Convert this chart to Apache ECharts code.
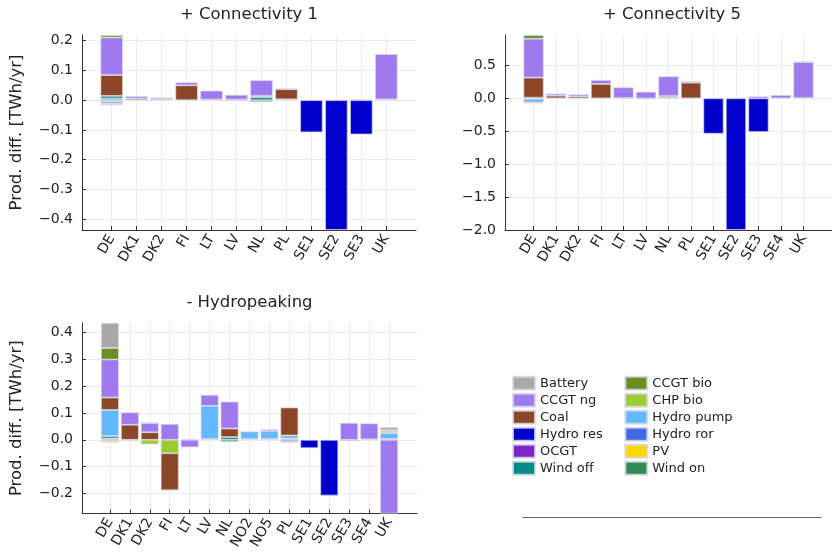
<!DOCTYPE html>
<html>
<head>
<meta charset="utf-8">
<script src="https://cdn.jsdelivr.net/npm/echarts@6/dist/echarts.min.js"></script>
<style>
  html, body { margin: 0; padding: 0; background: #ffffff; }
  #chart { width: 832px; height: 552px; }
</style>
</head>
<body>
<div id="chart"></div>
<script>
// Technologies (alphabetical) and their colours
const techs = ['Battery', 'CCGT bio', 'CCGT ng', 'CHP bio', 'Coal', 'Hydro pump',
               'Hydro res', 'Hydro ror', 'OCGT', 'PV', 'Wind off', 'Wind on'];
const techColors = ['#a9a9a9', '#6b8e23', '#9f79ee', '#9acd32', '#8b4726', '#63b8ff',
                    '#0000cd', '#4169e1', '#7d26cd', '#ffd700', '#008b8b', '#2e8b57'];

// ---- + Connectivity 1 : production difference [TWh/yr] ----
const conn1Regions   = ['DE', 'DK1', 'DK2', 'FI', 'LT', 'LV', 'NL', 'PL', 'SE1', 'SE2', 'SE3', 'UK'];
const conn1Battery   = [-0.003, 0, 0, 0, 0, 0, 0, 0, 0, 0, 0, 0];
const conn1CcgtBio   = [0.008, 0, 0, 0, 0, 0, 0, 0, 0, 0, 0, 0];
const conn1CcgtNg    = [0.126, 0.008, 0.005, 0.010, 0.030, 0.016, 0.053, 0.002, 0, 0, 0.003, 0.152];
const conn1ChpBio    = [0, 0, 0, 0, 0, 0, 0, 0, 0, 0, 0, 0];
const conn1Coal      = [0.070, 0.005, 0.004, 0.050, 0.002, 0.002, 0.004, 0.034, 0, 0, 0, 0];
const conn1HydroPump = [-0.008, 0, 0, 0, 0, -0.003, 0, 0, 0, 0, 0, 0];
const conn1HydroRes  = [0, 0, 0, 0, 0, 0, 0, 0, -0.108, -0.436, -0.115, 0];
const conn1HydroRor  = [-0.002, 0, 0, 0, 0, 0, 0, 0, 0, 0, 0, 0];
const conn1Ocgt      = [0, 0, 0, 0, 0, 0, 0, 0, 0, 0, 0, 0.003];
const conn1Pv        = [-0.004, 0, 0, 0, 0, 0, 0, 0, 0, 0, 0, 0];
const conn1WindOff   = [0.009, 0, 0, 0, 0, 0, 0.010, 0, 0, 0, 0, 0];
const conn1WindOn    = [0.0055, 0, 0, 0, 0, 0, -0.006, 0.003, 0, 0, 0, 0];
const conn1YTicks    = [-0.4, -0.3, -0.2, -0.1, 0.0, 0.1, 0.2];

// ---- + Connectivity 5 ----
const conn5Regions   = ['DE', 'DK1', 'DK2', 'FI', 'LT', 'LV', 'NL', 'PL', 'SE1', 'SE2', 'SE3', 'SE4', 'UK'];
const conn5Battery   = [-0.008, 0, 0, 0, 0, 0, 0, 0, 0, 0, 0, 0, 0];
const conn5CcgtBio   = [0.055, 0, 0, 0, 0, 0, 0, 0, 0, 0, 0, 0, 0.010];
const conn5CcgtNg    = [0.590, 0.030, 0.030, 0.060, 0.162, 0.100, 0.300, 0.020, 0, 0, 0.030, 0.050, 0.545];
const conn5ChpBio    = [0, 0, 0, 0, 0, 0, 0, 0, 0, 0, 0, 0, 0];
const conn5Coal      = [0.305, 0.040, 0.030, 0.218, 0.005, 0, 0.022, 0.238, 0, 0, 0, 0, 0];
const conn5HydroPump = [-0.055, 0, 0, 0, 0, -0.015, 0, 0, 0, 0, 0, 0, 0];
const conn5HydroRes  = [0, 0, 0, 0, 0, 0, 0, 0, -0.537, -2.0, -0.512, 0, 0];
const conn5HydroRor  = [0, 0, 0, 0, 0, 0, 0, 0, 0, 0, 0, 0, 0];
const conn5Ocgt      = [0, 0, 0, 0, 0, 0, 0, 0, 0, 0, 0, 0, 0.005];
const conn5Pv        = [-0.012, 0, 0, 0, 0, 0, 0, 0, 0, 0, 0, 0, 0];
const conn5WindOff   = [0.010, 0, 0, 0, 0, 0, 0, 0, 0, 0, 0, 0, 0];
const conn5WindOn    = [0, 0, 0, 0, 0, 0, 0.012, 0, 0, 0, 0, 0, 0];
const conn5YTicks    = [-2.0, -1.5, -1.0, -0.5, 0.0, 0.5];

// ---- - Hydropeaking ----
const hydroRegions   = ['DE', 'DK1', 'DK2', 'FI', 'LT', 'LV', 'NL', 'NO2', 'NO5', 'PL', 'SE1', 'SE2', 'SE3', 'SE4', 'UK'];
const hydroBattery   = [0.093, 0, 0, 0, 0, 0, 0, 0, 0, 0, 0, 0, 0, 0, 0.011];
const hydroCcgtBio   = [0.043, 0, 0.003, 0, 0, 0, 0, 0, 0, 0, 0, 0, 0, 0, 0.006];
const hydroCcgtNg    = [0.141, 0.046, 0.034, 0.059, -0.028, 0.041, 0.100, 0, 0.006, -0.008, 0, 0, 0.063, 0.059, -0.274];
const hydroChpBio    = [0, 0, -0.017, -0.050, 0, 0, 0, 0, 0, 0, 0, 0, 0, 0, 0.005];
const hydroCoal      = [0.046, 0.056, 0.028, -0.137, 0.002, 0, 0.032, 0, 0, 0.104, 0, 0, 0, 0, 0];
const hydroHydroPump = [0.097, 0, 0, 0, 0, 0.123, 0, 0.028, 0.030, 0.011, 0, 0, 0, 0, 0.022];
const hydroHydroRes  = [0, 0, 0, 0, 0, 0, 0, 0, 0, 0, -0.031, -0.207, -0.004, 0, 0];
const hydroHydroRor  = [-0.004, 0, 0, -0.003, 0, 0.003, 0, 0.003, 0.003, 0.005, 0, 0, 0, 0, 0.003];
const hydroOcgt      = [0, 0, 0, 0, 0, 0, 0, 0, 0, -0.002, 0, 0, 0, 0.002, 0];
const hydroPv        = [-0.006, 0, 0, 0, 0, 0, 0, 0, 0, 0, 0, 0, 0, 0, 0];
const hydroWindOff   = [0.009, 0, 0, 0, 0, 0, 0.010, 0, 0, 0, 0, 0, 0, 0, 0];
const hydroWindOn    = [0.005, -0.003, 0, 0, 0, 0, -0.008, 0, 0, 0, 0, 0, 0, 0, 0];
const hydroYTicks    = [-0.2, -0.1, 0.0, 0.1, 0.2, 0.3, 0.4];

const yLabel = 'Prod. diff. [TWh/yr]';
const FONT = 'DejaVu Sans';
const TEXT = '#222222';
const AXIS = '#333333';
const GRIDLINE = '#ebebeb';

const panels = [
  {
    title: '+ Connectivity 1', regions: conn1Regions, yTicks: conn1YTicks,
    values: [conn1Battery, conn1CcgtBio, conn1CcgtNg, conn1ChpBio, conn1Coal, conn1HydroPump,
             conn1HydroRes, conn1HydroRor, conn1Ocgt, conn1Pv, conn1WindOff, conn1WindOn],
    yMin: -0.436, yMax: 0.219, xPad: 1.19, yName: yLabel,
    box: { left: 82, top: 35, width: 334, height: 195 }
  },
  {
    title: '+ Connectivity 5', regions: conn5Regions, yTicks: conn5YTicks,
    values: [conn5Battery, conn5CcgtBio, conn5CcgtNg, conn5ChpBio, conn5Coal, conn5HydroPump,
             conn5HydroRes, conn5HydroRor, conn5Ocgt, conn5Pv, conn5WindOff, conn5WindOn],
    yMin: -2.0, yMax: 0.962, xPad: 1.27, yName: '',
    box: { left: 505, top: 35, width: 334, height: 195 }
  },
  {
    title: '- Hydropeaking', regions: hydroRegions, yTicks: hydroYTicks,
    values: [hydroBattery, hydroCcgtBio, hydroCcgtNg, hydroChpBio, hydroCoal, hydroHydroPump,
             hydroHydroRes, hydroHydroRor, hydroOcgt, hydroPv, hydroWindOff, hydroWindOn],
    yMin: -0.274, yMax: 0.435, xPad: 1.4, yName: yLabel,
    box: { left: 82, top: 322.7, width: 335, height: 195 }
  }
];

const fmtTick = v => (Math.abs(v) < 1e-9 ? '0.0' : v.toFixed(1)).replace('-', '\u2212');

const grids = [], xAxes = [], yAxes = [], series = [], graphics = [];

panels.forEach((p, pi) => {
  const idx = p.regions.map((_, i) => i);
  grids.push(Object.assign({ containLabel: false }, p.box));
  xAxes.push({
    type: 'value', gridIndex: pi,
    min: -p.xPad, max: p.regions.length - 1 + p.xPad,
    axisLine: { show: true, onZero: false, lineStyle: { color: AXIS, width: 1 } },
    axisTick: { show: true, inside: true, length: 4, customValues: idx, lineStyle: { color: AXIS } },
    axisLabel: {
      customValues: idx, formatter: v => p.regions[Math.round(v)] || '',
      rotate: 60, margin: 6, fontFamily: FONT, fontSize: 14, color: TEXT
    },
    splitLine: { show: true, lineStyle: { color: GRIDLINE, width: 1 } }
  });
  yAxes.push({
    type: 'value', gridIndex: pi, min: p.yMin, max: p.yMax,
    axisLine: { show: true, onZero: false, lineStyle: { color: AXIS, width: 1 } },
    axisTick: { show: true, inside: true, length: 4, customValues: p.yTicks, lineStyle: { color: AXIS } },
    axisLabel: { customValues: p.yTicks, formatter: fmtTick, margin: 9, fontFamily: FONT, fontSize: 14, color: TEXT },
    splitLine: { show: true, lineStyle: { color: GRIDLINE, width: 1 } },
    name: p.yName, nameLocation: 'middle', nameGap: 57,
    nameTextStyle: { fontFamily: FONT, fontSize: 16.5, color: TEXT }
  });
  graphics.push({
    type: 'text', x: p.box.left + p.box.width / 2, y: p.box.top - 20,
    style: {
      text: p.title, font: '16.5px "DejaVu Sans"', fill: TEXT,
      textAlign: 'center', align: 'center', textVerticalAlign: 'middle', verticalAlign: 'middle'
    }
  });

  // Stack order: positives grow upward from the last technology, negatives downward from the first
  const makeSeries = (ti, sign) => {
    const vals = p.values[ti];
    if (!vals.some(v => sign > 0 ? v > 0 : v < 0)) return null;
    return {
      type: 'bar', name: techs[ti], xAxisIndex: pi, yAxisIndex: pi,
      stack: 'panel' + pi, barWidth: '90%',
      encode: { x: 1, y: 0 },
      itemStyle: { color: techColors[ti], borderColor: 'rgba(215,215,230,0.85)', borderWidth: 0.8 },
      emphasis: { disabled: true },
      data: vals.map((v, i) => [(sign > 0 ? v > 0 : v < 0) ? v : '-', i])
    };
  };
  for (let ti = techs.length - 1; ti >= 0; ti--) {
    const s = makeSeries(ti, 1); if (s) series.push(s);
  }
  for (let ti = 0; ti < techs.length; ti++) {
    const s = makeSeries(ti, -1); if (s) series.push(s);
  }
});

// Empty fourth panel hosting the legend: only its bottom axis line is drawn
grids.push({ left: 523, top: 322.7, width: 298, height: 195 });
xAxes.push({
  type: 'value', gridIndex: 3, min: 0, max: 1,
  axisLine: { show: true, onZero: false, lineStyle: { color: '#666666', width: 1 } },
  axisTick: { show: false }, axisLabel: { show: false }, splitLine: { show: false }
});
yAxes.push({ type: 'value', gridIndex: 3, show: false });

const legendBase = {
  orient: 'vertical', top: 375.7, padding: 0, itemGap: 2,
  itemWidth: 22, itemHeight: 13, icon: 'rect', selectedMode: false,
  textStyle: { fontFamily: FONT, fontSize: 13, color: TEXT, lineHeight: 13 }
};
const legendCol1 = techs.filter((_, i) => i % 2 === 0);
const legendCol2 = techs.filter((_, i) => i % 2 === 1);

const chart = echarts.init(document.getElementById('chart'), null, { renderer: 'canvas' });
chart.setOption({
  animation: false,
  backgroundColor: '#ffffff',
  grid: grids,
  xAxis: xAxes,
  yAxis: yAxes,
  legend: [
    Object.assign({}, legendBase, { left: 512, data: legendCol1 }),
    Object.assign({}, legendBase, { left: 624.3, data: legendCol2 })
  ],
  graphic: graphics,
  series: series
});
</script>
</body>
</html>
